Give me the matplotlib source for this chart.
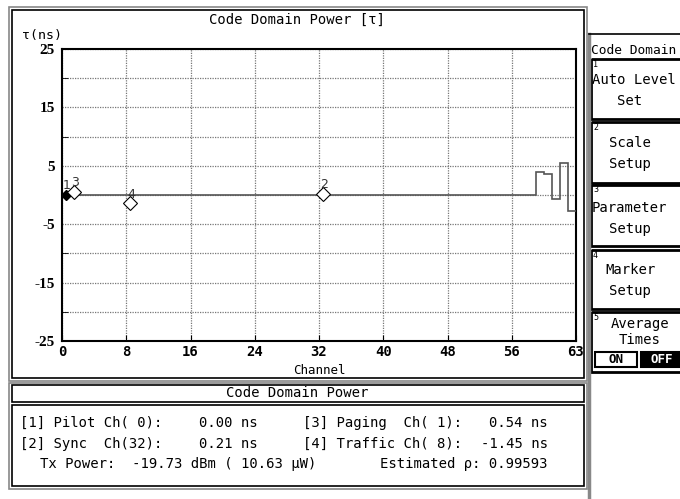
import numpy as np
import matplotlib
matplotlib.use('Agg')
import matplotlib.pyplot as plt
from matplotlib.patches import Rectangle

# trace values per channel (ns)
tau = [0.0] * 59 + [3.9, 3.6, -0.7, 5.5, -2.7]
edges = np.arange(len(tau) + 1)

# markers: number, channel, value
mk_num = ['1', '2', '3', '4']
mk_ch = [0, 32, 1, 8]
mk_val = [0.00, 0.21, 0.54, -1.45]

xticks = [0, 8, 16, 24, 32, 40, 48, 56, 64]
xlabels = ['0', '8', '16', '24', '32', '40', '48', '56', '63']
yticks = [-25, -15, -5, 5, 15, 25]

# readout table
rows_left = ['[1] Pilot Ch( 0):', '[2] Sync  Ch(32):']
vals_left = ['0.00 ns', '0.21 ns']
rows_right = ['[3] Paging  Ch( 1):', '[4] Traffic Ch( 8):']
vals_right = ['0.54 ns', '-1.45 ns']
tx_power = 'Tx Power:  -19.73 dBm ( 10.63 \u00b5W)'
rho = 'Estimated \u03c1: 0.99593'

menu = [('1', ['Auto Level', 'Set']), ('2', ['Scale', 'Setup']),
        ('3', ['Parameter', 'Setup']), ('4', ['Marker', 'Setup']),
        ('5', ['Average', 'Times'])]

FONT = 'DejaVu Sans Mono'
W, H = 680, 499
fig = plt.figure(figsize=(W / 100, H / 100), dpi=100)

# background layer in pixel coordinates
bg = fig.add_axes([0, 0, 1, 1])
bg.set_xlim(0, W)
bg.set_ylim(H, 0)
bg.axis('off')

def box(x0, y0, x1, y1, c='black', lw=1, fc='none'):
    bg.add_patch(Rectangle((x0, y0), x1 - x0, y1 - y0, fill=(fc != 'none'),
                           facecolor=fc, edgecolor=c, lw=lw, clip_on=False))

def txt(x, y, s, ha='left', size=10, weight='normal', color='black'):
    bg.text(x, y, s, ha=ha, va='center', fontsize=size, family=FONT,
            weight=weight, color=color)

# main panel frame
box(9, 7, 587, 381, c='#888888', lw=1.2)
box(12, 10, 584, 378, lw=1.2)
txt(297, 20, 'Code Domain Power [\u03c4]', ha='center')
txt(22, 35, '\u03c4(ns)', size=9.5)
txt(319, 370, 'Channel', ha='center', size=9)

# bottom readout panel
box(9, 383, 587, 489, c='#888888', lw=1.2)
box(12, 385, 584, 402, lw=1.2)
box(12, 405, 584, 486, lw=1.2)
txt(297, 393, 'Code Domain Power', ha='center')
for i in range(2):
    y = 423 + i * 21
    txt(20, y, rows_left[i])
    txt(258, y, vals_left[i], ha='right')
    txt(303, y, rows_right[i])
    txt(548, y, vals_right[i], ha='right')
txt(40, 464, tx_power)
txt(548, 464, rho, ha='right')

# soft key menu on the right
bg.plot([589, 589], [34, H], color='#888888', lw=2.5)
bg.plot([589, W], [34, 34], color='black', lw=1.2)
txt(591, 50, 'Code Domain', size=9.3)
tops = [59, 122, 185, 250, 312]
bots = [119, 183, 246, 309, 372]
for (num, lines), t, b in zip(menu, tops, bots):
    box(591, t, 700, b, lw=2)
    txt(593, t + 5, num, size=6)
for i, y in enumerate([80, 143, 208, 270]):
    first = menu[i][1][0]
    if first in ('Auto Level', 'Parameter'):
        txt(592, y, first)
    else:
        txt(630, y, first, ha='center')
    txt(630, y + 21, menu[i][1][1], ha='center')
txt(640, 324, menu[4][1][0], ha='center')
txt(640, 340, menu[4][1][1], ha='center')
box(595, 352, 637, 367, lw=1.5)
box(641, 352, 700, 367, lw=1.5, fc='black')
txt(616, 359.5, 'ON', ha='center', size=9, weight='bold')
txt(662, 359.5, 'OFF', ha='center', size=9, weight='bold', color='white')

# plot area
ax = fig.add_axes([62 / W, 1 - 341 / H, (576 - 62) / W, (341 - 49) / H])
ax.set_xlim(0, 64)
ax.set_ylim(-25, 25)
ax.stairs(tau, edges, baseline=None, color='#555555', lw=1.2, zorder=3)

ax.set_xticks(xticks)
ax.set_xticklabels(xlabels, family=FONT, weight='bold', fontsize=10)
ax.set_yticks(yticks)
ax.set_yticklabels([str(v) for v in yticks], family='Liberation Serif',
                   weight='bold', fontsize=11)
ax.set_yticks([-20, -10, 0, 10, 20], minor=True)
ax.tick_params(axis='both', which='both', direction='in', length=4,
               color='black', pad=3)
ax.tick_params(axis='y', which='major', length=0, pad=5)
ax.grid(True, which='both', color='#777777', lw=0.9, ls=(0, (1, 1)))
for s in ax.spines.values():
    s.set_linewidth(1.5)
    s.set_color('black')

for n, c, v in zip(mk_num, mk_ch, mk_val):
    x = c + 0.5
    if n == '1':
        ax.plot(x, v, marker='D', ms=5, color='black', zorder=5, clip_on=False)
    else:
        ax.plot(x, v, marker='D', ms=7, mfc='white', mec='black', mew=0.8,
                zorder=5, clip_on=False)
    ax.text(x + 0.1, v + 1.6, n, ha='center', va='center', fontsize=9,
            color='#333333', zorder=6)

fig.savefig('out.png', dpi=100)
plt.close()
